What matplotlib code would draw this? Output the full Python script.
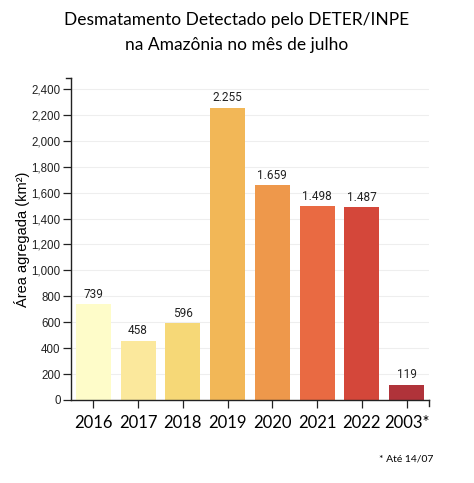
import numpy as np
import matplotlib.pyplot as plt

years = ["2016", "2017", "2018", "2019", "2020", "2021", "2022", "2003*"]
areas = [739, 458, 596, 2255, 1659, 1498, 1487, 119]
value_labels = ["739", "458", "596", "2.255", "1.659", "1.498", "1.487", "119"]
colors = ["#fefcc9", "#fbe89c", "#f6d877", "#f2b757", "#ee984b", "#e96a42",
          "#d4473a", "#b0333a"]
yticks = list(range(0, 2401, 200))


def main():
    fig = plt.figure(figsize=(4.74, 4.83), dpi=100)
    ax = fig.add_axes([71 / 474, 83 / 483, 358 / 474, 321.5 / 483])

    x = np.arange(len(years))
    ax.bar(x, areas, width=0.78, color=colors, zorder=2)
    for xi, v, lab in zip(x, areas, value_labels):
        ax.text(xi, v + 25, lab, ha="center", va="bottom", fontsize=8.5,
                family="Roboto", color="#222222")

    ax.set_xlim(-0.5, len(years) - 0.5)
    ax.set_ylim(0, max(areas) * 1.1)
    ax.set_yticks(yticks)
    ax.set_yticklabels([f"{t:,}" for t in yticks], fontsize=8.3,
                       family="Liberation Sans", color="#222222")
    ax.set_xticks(x)
    ax.set_xticklabels(years, fontsize=12, family="Lato")
    ax.grid(axis="y", color="#eeeeee", linewidth=0.8, zorder=0)
    ax.tick_params(axis="both", length=5.5, width=0.9, color="#222222")
    ax.tick_params(axis="y", pad=2)
    ax.tick_params(axis="x", pad=5)
    for side in ["top", "right"]:
        ax.spines[side].set_visible(False)
    for side in ["left", "bottom"]:
        ax.spines[side].set_color("#222222")
        ax.spines[side].set_linewidth(1.0)
    # end ticks of the axis lines
    ax.plot([-0.5, -0.5 - 0.11], [2480.5, 2480.5], color="#222222", lw=1.0,
            clip_on=False)
    ax.plot([7.5, 7.5], [0, -48], color="#222222", lw=1.0, clip_on=False)

    ax.set_ylabel("Área agregada (km²)", fontsize=10.5, family="Liberation Sans",
                  labelpad=1)

    fig.text(0.5, 1 - 20 / 483, "Desmatamento Detectado pelo DETER/INPE",
             ha="center", va="center", fontsize=12.5, family="Lato")
    fig.text(0.5, 1 - 45 / 483, "na Amazônia no mês de julho",
             ha="center", va="center", fontsize=12.5, family="Lato")
    fig.text(433 / 474, 1 - 459 / 483, "* Até 14/07", ha="right", va="center",
             fontsize=7.5, family="Lato")

    fig.savefig("out.png", dpi=100)
    plt.close(fig)


if __name__ == "__main__":
    main()
